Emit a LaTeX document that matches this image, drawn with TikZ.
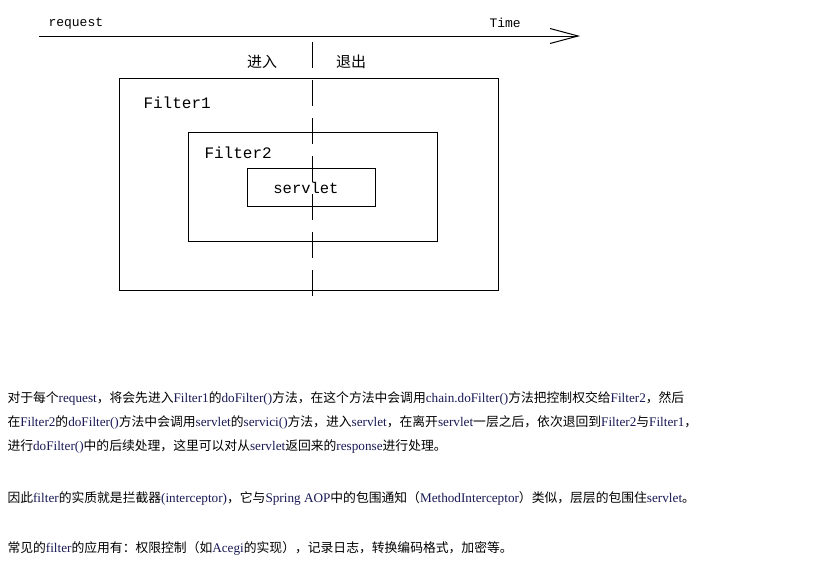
\documentclass[tikz,border=0pt]{standalone}
\usepackage{fontspec}
\setmainfont{Liberation Serif}
\newfontfamily\cjk{Noto Sans CJK SC}
\newfontfamily\monofont{Liberation Mono}
\usetikzlibrary{arrows.meta}

\definecolor{latinblue}{RGB}{25,25,85}
\newcommand{\en}[1]{{\rmfamily\fontsize{13.2}{15}\selectfont\color{latinblue}#1}}

\begin{document}
\begin{tikzpicture}[x = 1pt, y = -1pt, line width = 1pt,
	box/.style = {draw, inner sep = 0pt},
	mono/.style = {font = \monofont\fontsize{#1}{#1}\selectfont, inner sep = 0pt},
	zh/.style = {font = \cjk\fontsize{15}{15}\selectfont, inner sep = 0pt},
	para/.style = {font = \cjk\fontsize{12.8}{13}\selectfont, anchor = base west, inner sep = 0pt}]

	\useasboundingbox [fill = white] (0, 0) rectangle (819, 571);

	% time axis
	\coordinate (tstart) at (39, 36);
	\coordinate (tend) at (580, 36);
	\draw [-{Straight Barb[length = 28pt, width = 15pt]}] (tstart) -- (tend);
	\node [mono = 13, anchor = base west] (request) at (48, 26) {request};
	\node [mono = 13, anchor = base west] (time) at (489, 27) {Time};

	\node [zh] (enter) at (262, 62) {进入};
	\node [zh] (leave) at (351, 62) {退出};

	% nested boxes
	\node [box, minimum width = 379pt, minimum height = 212pt] (filter1) at (308.5, 184) {};
	\node [mono = 16, anchor = base west] (f1label) at (143, 108) {Filter1};

	\node [box, minimum width = 249pt, minimum height = 109pt] (filter2) at (312.5, 186.5) {};
	\node [mono = 16, anchor = base west] (f2label) at (204, 158) {Filter2};

	\node [box, minimum width = 128pt, minimum height = 38pt] (servlet) at (311, 187) {};
	\node [mono = 15.5] (slabel) at (306, 188) {servlet};

	\coordinate (cuttop) at (312, 42);
	\coordinate (cutbot) at (312, 306);
	\draw [dash pattern = on 26pt off 12pt] (cuttop) -- (cutbot);

	% text below
	\node [para] (line1) at (7, 402) {对于每个\en{request}，将会先进入\en{Filter1}的\en{doFilter()}方法，在这个方法中会调用\en{chain.doFilter()}方法把控制权交给\en{Filter2}，然后};
	\node [para] (line2) at (7, 426) {在\en{Filter2}的\en{doFilter()}方法中会调用\en{servlet}的\en{servici()}方法，进入\en{servlet}，在离开\en{servlet}一层之后，依次退回到\en{Filter2}与\en{Filter1}，};
	\node [para] (line3) at (7, 450) {进行\en{doFilter()}中的后续处理，这里可以对从\en{servlet}返回来的\en{response}进行处理。};

	\node [para] (line4) at (7, 502) {因此\en{filter}的实质就是拦截器\en{(interceptor)}，它与\en{Spring AOP}中的包围通知（\en{MethodInterceptor}）类似，层层的包围住\en{servlet}。};

	\node [para] (line5) at (7, 552) {常见的\en{filter}的应用有：权限控制（如\en{Acegi}的实现），记录日志，转换编码格式，加密等。};

\end{tikzpicture}
\end{document}
